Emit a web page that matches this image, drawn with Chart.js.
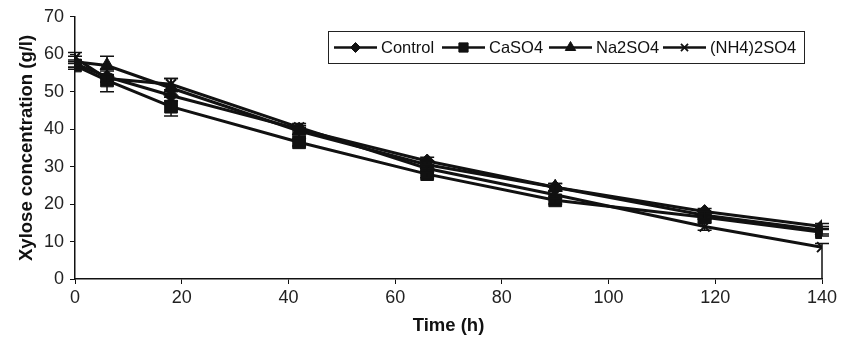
<!DOCTYPE html>
<html><head><meta charset="utf-8">
<script src="https://cdn.jsdelivr.net/npm/chart.js@4/dist/chart.umd.min.js"></script>
<style>html,body{margin:0;padding:0;background:#fff}#wrap{width:844px;height:339px}</style>
</head><body><div id="wrap"><canvas id="c" width="844" height="339"></canvas></div>
<script>
const timeH = [0, 6, 18, 42, 66, 90, 118, 140];
const seriesNames = ["Control", "CaSO4", "Na2SO4", "(NH4)2SO4"];
const controlVals = [57.5, 54, 49, 40, 31.5, 24.5, 18, 14];
const caso4Vals = [57, 53, 46, 36.5, 28, 21, 16.5, 12.5];
const na2so4Vals = [58, 57, 51, 39.5, 30.5, 24.5, 17, 13];
const nh4Vals = [59, 53.5, 52, 40.5, 29.5, 22.5, 14, 8.5];
const controlErr = [1, 1.5, 1.5, 1, 1, 1, 0.8, 0.8];
const caso4Err = [1, 3, 2.5, 1, 1, 1, 1, 1];
const na2so4Err = [1.5, 2.5, 2.5, 1, 1, 1, 1, 1];
const nh4ErrHigh = [1.5, 1, 1.5, 1, 1, 1, 1, 1];
const nh4ErrLow = [1.5, 1, 1.5, 1, 1, 1, 1, 8.5];
const yTicks = [0, 10, 20, 30, 40, 50, 60, 70];
const xTicks = [0, 20, 40, 60, 80, 100, 120, 140];

const FONT = "'Liberation Sans', Arial, sans-serif";
const styles = ["rectRot", "rect", "triangle", "crossRot"];
const radii = [7, 9, 8, 7];
const legendRadii = [5, 6.5, 6, 5];
const legendLineX = [334, 442, 549, 663];
const vals = [controlVals, caso4Vals, na2so4Vals, nh4Vals];
const errHigh = [controlErr, caso4Err, na2so4Err, nh4ErrHigh];
const errLow = [controlErr, caso4Err, na2so4Err, nh4ErrLow];

const datasets = seriesNames.map((n, i) => ({
  label: n,
  data: timeH.map((t, j) => ({x: t, y: vals[i][j]})),
  errHigh: errHigh[i],
  errLow: errLow[i],
  legendRadius: legendRadii[i],
  borderColor: "#111",
  backgroundColor: "#111",
  borderWidth: 3,
  pointStyle: styles[i],
  pointRadius: radii[i],
  pointBorderWidth: i === 3 ? 2 : 1,
  pointBorderColor: "#111",
  pointBackgroundColor: "#111",
  tension: 0,
  fill: false
}));

const errorBars = {
  id: "errorBars",
  afterDatasetsDraw(chart) {
    const ctx = chart.ctx, xs = chart.scales.x, ys = chart.scales.y;
    ctx.save();
    ctx.strokeStyle = "#111";
    ctx.lineWidth = 1.5;
    chart.data.datasets.forEach(ds => {
      ds.data.forEach((p, j) => {
        const px = xs.getPixelForValue(p.x);
        const hi = Math.min(p.y + ds.errHigh[j], 70);
        const lo = Math.max(p.y - ds.errLow[j], 0);
        const top = ys.getPixelForValue(hi);
        const bot = ys.getPixelForValue(lo);
        ctx.beginPath();
        ctx.moveTo(px, top); ctx.lineTo(px, bot);
        ctx.moveTo(px - 7, top); ctx.lineTo(px + 7, top);
        if (lo > 0) { ctx.moveTo(px - 7, bot); ctx.lineTo(px + 7, bot); }
        ctx.stroke();
      });
    });
    ctx.restore();
  }
};

const boxLegend = {
  id: "boxLegend",
  afterDraw(chart) {
    const ctx = chart.ctx;
    const left = 328, top = 31, right = 804, bottom = 63;
    ctx.save();
    ctx.fillStyle = "#fff";
    ctx.fillRect(left, top, right - left, bottom - top);
    ctx.strokeStyle = "#222";
    ctx.lineWidth = 1;
    ctx.strokeRect(left + 0.5, top + 0.5, right - left, bottom - top);
    ctx.font = "16.5px " + FONT;
    ctx.textBaseline = "middle";
    const cy = (top + bottom) / 2 + 0.5;
    chart.data.datasets.forEach((ds, i) => {
      const x = legendLineX[i];
      ctx.strokeStyle = "#111";
      ctx.lineWidth = 2.5;
      ctx.beginPath(); ctx.moveTo(x, cy); ctx.lineTo(x + 43, cy); ctx.stroke();
      ctx.fillStyle = "#111";
      const bw = i === 3 ? 1.8 : 1;
      ctx.lineWidth = bw;
      Chart.helpers.drawPoint(ctx, {pointStyle: ds.pointStyle, radius: ds.legendRadius, borderWidth: bw}, x + 21.5, cy);
      ctx.fillStyle = "#111";
      ctx.fillText(ds.label, x + 47, cy + 1);
    });
    ctx.restore();
  }
};

new Chart(document.getElementById("c"), {
  type: "line",
  data: { datasets },
  plugins: [errorBars, boxLegend],
  options: {
    responsive: false,
    animation: false,
    layout: { padding: { top: 16, right: 22, left: 0, bottom: 0 } },
    plugins: { legend: { display: false }, tooltip: { enabled: false } },
    scales: {
      x: {
        type: "linear", min: 0, max: 140,
        afterBuildTicks: s => { s.ticks = xTicks.map(v => ({value: v})); },
        afterFit: s => { s.height = 60; },
        grid: { drawOnChartArea: false, drawTicks: true, tickLength: 5, color: "#111", lineWidth: 1 },
        border: { color: "#111", width: 1.5 },
        ticks: { color: "#222", font: { size: 18, family: FONT }, padding: 3, maxRotation: 0 },
        title: { display: true, text: "Time (h)", color: "#111", font: { size: 18.5, weight: "bold", family: FONT }, padding: { top: 2, bottom: 2 } }
      },
      y: {
        min: 0, max: 70,
        afterBuildTicks: s => { s.ticks = yTicks.map(v => ({value: v})); },
        afterFit: s => { s.width = 75; },
        grid: { drawOnChartArea: false, drawTicks: true, tickLength: 5, color: "#111", lineWidth: 1 },
        border: { color: "#111", width: 1.5 },
        ticks: { color: "#222", font: { size: 18, family: FONT }, padding: 6 },
        title: { display: true, text: "Xylose concentration (g/l)", color: "#111", font: { size: 18.5, weight: "bold", family: FONT }, padding: { top: 16, bottom: 2 } }
      }
    }
  }
});
</script></body></html>
